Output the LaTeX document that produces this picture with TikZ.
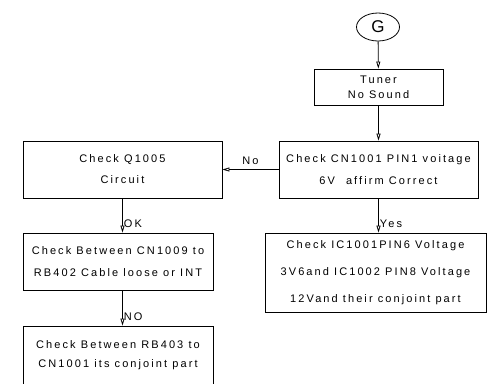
\documentclass[tikz,border=0pt]{standalone}
\usepackage{fontspec}
\setmainfont{Liberation Sans}[LetterSpace=19]
\usetikzlibrary{arrows.meta, positioning, shapes.geometric}

\begin{document}
\begin{tikzpicture}[
  x=1pt, y=1pt,
  every node/.style={font=\fontsize{11}{12}\selectfont},
  box/.style={rectangle, draw, line width=0.8pt, minimum width=#1, align=center, inner sep=0pt},
  arrow/.style={-{Triangle[open, length=7pt, width=4pt]}, line width=0.8pt},
  lbl/.style={font=\fontsize{11}{12}\selectfont, inner sep=1pt},
]
\useasboundingbox (0,0) rectangle (487,-383);
\node[ellipse, draw, line width=0.8pt, minimum width=43pt, minimum height=28pt, inner sep=0pt, font=\fontsize{17}{17}\selectfont] (start) at (378,-27) {G};
\node[box=129pt, minimum height=36pt, font=\fontsize{11}{15}\selectfont] (tuner) at (378.5,-87) {Tuner\\No Sound};
\node[box=199pt, minimum height=57pt, font=\fontsize{11}{22}\selectfont] (pin1) at (378.5,-169.5) {Check CN1001 PIN1 voitage\\6V\quad affirm Correct};
\node[box=199pt, minimum height=57pt, font=\fontsize{11}{21}\selectfont] (q1005) at (122.5,-169.5) {Check Q1005\\Circuit};
\node[box=190pt, minimum height=57pt, font=\fontsize{11}{22}\selectfont] (cable) at (118,-261.5) {Check Between CN1009 to\\RB402 Cable loose or INT};
\node[box=190pt, minimum height=58pt, font=\fontsize{11}{19}\selectfont] (conj) at (118,-355) {Check Between RB403 to\\CN1001 its conjoint part};
\node[box=221pt, minimum height=79pt, font=\fontsize{11}{27}\selectfont] (ic) at (375.5,-272.5) {Check IC1001PIN6 Voltage\\3V6and IC1002 PIN8 Voltage\\12Vand their conjoint part};

\draw[arrow] (start) -- (tuner);
\draw[arrow] (tuner) -- (pin1);
\draw[arrow] (pin1) -- node[lbl, above=3pt] {No} (q1005);
\draw[arrow] (q1005.south) -- node[lbl, pos=0.75, right] {OK} (q1005.south |- cable.north);
\draw[arrow] (cable.south -| q1005.south) -- node[lbl, pos=0.75, right] {NO} (q1005.south |- conj.north);
\draw[arrow] (pin1.south) -- node[lbl, pos=0.75, right] {Yes} (pin1.south |- ic.north);
\end{tikzpicture}
\end{document}
